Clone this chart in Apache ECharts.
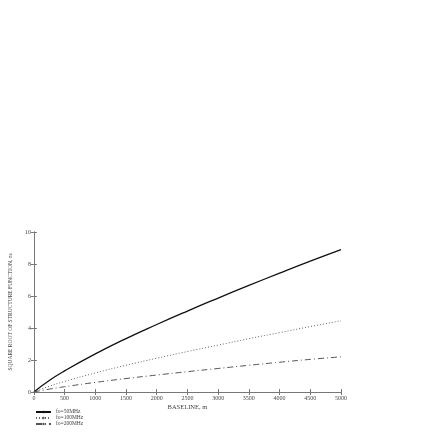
<!DOCTYPE html>
<html>
<head>
<meta charset="utf-8">
<script src="https://cdn.jsdelivr.net/npm/echarts@6/dist/echarts.min.js"></script>
<style>
  html, body { margin: 0; padding: 0; background: #fff; }
  #chart { width: 436px; height: 436px; }
</style>
</head>
<body>
<div id="chart"></div>
<script>
// baseline в метрах, значения в нс
const baseline = [0, 250, 500, 1000, 1500, 2000, 2500, 3000, 3500, 4000, 4500, 5000]
const fo50 = [0, 0.72, 1.32, 2.38, 3.34, 4.22, 5.06, 5.87, 6.66, 7.43, 8.18, 8.9]
const fo100 = [0, 0.36, 0.66, 1.19, 1.67, 2.11, 2.53, 2.93, 3.33, 3.71, 4.09, 4.45]
const fo200 = [0, 0.18, 0.33, 0.6, 0.84, 1.06, 1.27, 1.47, 1.67, 1.86, 2.04, 2.2]
const seriesNames = ['fo=50MHz', 'fo=100MHz', 'fo=200MHz']

const FONT = 'Liberation Serif'
const AXIS_COLOR = '#777'
const TEXT_COLOR = '#444'

const pairs = (ys) => baseline.map((x, i) => [x, ys[i]])

const chart = echarts.init(document.getElementById('chart'), null, { renderer: 'canvas' })

const tickIn = { show: true, inside: true, length: 3, lineStyle: { color: AXIS_COLOR, width: 1 } }
const labelStyle = { fontFamily: FONT, fontSize: 6, color: TEXT_COLOR }

chart.setOption({
  animation: false,
  grid: { left: 31, right: 95, top: 232, bottom: 44 },
  legend: {
    orient: 'vertical',
    left: 30,
    top: 404,
    itemWidth: 15,
    itemHeight: 3,
    itemGap: 0,
    textStyle: { fontFamily: FONT, fontSize: 5.5, color: TEXT_COLOR },
    data: seriesNames,
  },
  xAxis: [
    {
      type: 'value',
      min: 0,
      max: 5000,
      interval: 500,
      name: 'BASELINE, m',
      nameLocation: 'middle',
      nameGap: 12,
      nameTextStyle: { ...labelStyle, fontSize: 6.5 },
      axisLine: { show: true, lineStyle: { color: AXIS_COLOR, width: 1 } },
      axisTick: tickIn,
      axisLabel: { ...labelStyle, margin: 3, formatter: (v) => String(v) },
      splitLine: { show: false },
    },
    {
      type: 'value',
      position: 'top',
      min: 0,
      max: 5000,
      interval: 500,
      axisLine: { show: true, lineStyle: { color: 'rgba(0,0,0,0)' } },
      axisTick: tickIn,
      axisLabel: { show: false },
      splitLine: { show: false },
    },
  ],
  yAxis: [
    {
      type: 'value',
      min: 0,
      max: 10,
      interval: 2,
      name: 'SQUARE ROOT OF STRUCTURE FUNCTION, ns',
      nameLocation: 'middle',
      nameGap: 19,
      nameTextStyle: { ...labelStyle, fontSize: 5.5 },
      axisLine: { show: true, lineStyle: { color: AXIS_COLOR, width: 1 } },
      axisTick: tickIn,
      axisLabel: { ...labelStyle, margin: 3 },
      splitLine: { show: false },
    },
    {
      type: 'value',
      position: 'right',
      min: 0,
      max: 10,
      interval: 2,
      axisLine: { show: true, lineStyle: { color: AXIS_COLOR, width: 1 } },
      axisTick: tickIn,
      axisLabel: { show: false },
      splitLine: { show: false },
    },
  ],
  series: [
    {
      name: seriesNames[0],
      type: 'line',
      smooth: true,
      symbol: 'none',
      data: pairs(fo50),
      lineStyle: { color: '#111', width: 1.3, type: 'solid' },
      itemStyle: { color: '#111' },
    },
    {
      name: seriesNames[1],
      type: 'line',
      smooth: true,
      symbol: 'none',
      data: pairs(fo100),
      lineStyle: { color: '#666', width: 1, type: [1, 2] },
      itemStyle: { color: '#666' },
    },
    {
      name: seriesNames[2],
      type: 'line',
      smooth: true,
      symbol: 'none',
      data: pairs(fo200),
      lineStyle: { color: '#555', width: 1, type: [6, 3, 1, 3] },
      itemStyle: { color: '#555' },
    },
  ],
})
</script>
</body>
</html>
